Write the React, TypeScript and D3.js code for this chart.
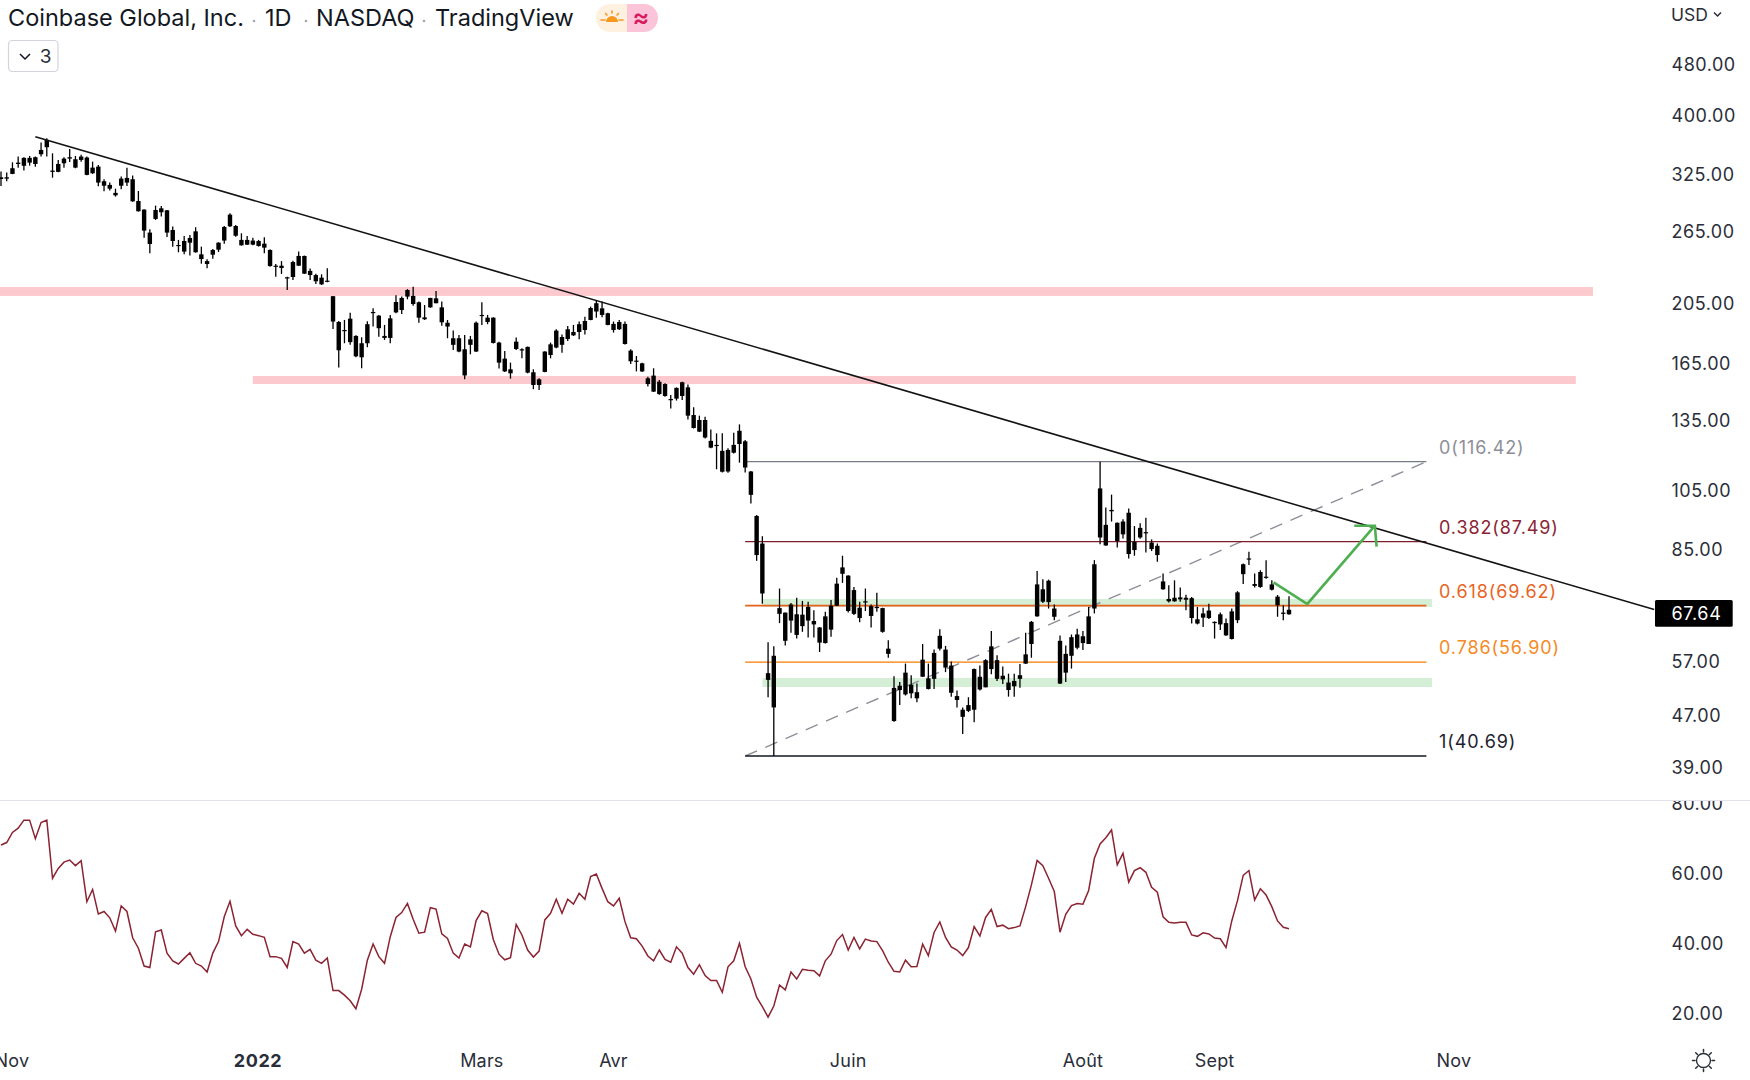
import React from "react";
import * as d3 from "d3";

const candleHigh = [
328,326.9,339.1,346.1,345.3,346.9,346.1,363.9,369.5,350.2,
342,345.3,355.7,346.9,348.5,346.1,339.9,335.9,319.2,315.4,
308.6,322.2,332.7,323.4,306.1,286.7,267,290.5,290.2,286,
269.5,257,260.6,261.6,268.9,250.9,239.8,248.8,254.8,270.1,
282.7,271.1,263.2,260.6,259.1,257,259.4,248.5,235.8,238.3,
225.4,238.6,246.7,243,232,227.8,227.3,232.2,210.4,192.4,
193.1,198.2,182.8,181.5,192.2,201.3,196.6,189.7,196.6,210.9,
209.9,215.6,217.5,206.2,
203.7,209.1,214.1,206.2,193.1,185.9,183,183,182.4,192,
205.7,196.6,194.9,178.7,172.9,165.8,181.3,174.6,175.6,161.9,
156.8,172.7,178.1,186.8,183.4,189,189.7,192,195.4,202.5,
206.9,206.2,198.2,192,193.1,192,173.9,169.8,165.8,157.7,
162.5,155.9,154,147.7,151.8,154.9,153.4,141.4,137.2,136.7,
130.6,128.8,128.8,122.1,129.1,133,125.8,112.6,96.2,89.2,
61.1,60.2,74,67.9,70.3,71.6,70.8,70.6,68.5,64.5,
68.1,71,76.9,83.2,77.6,74.4,70.6,74,69.9,72.9,
69.1,61.5,54.1,53,56.6,54.3,52.7,60.7,56.6,59.5,
64,60.3,57,51.4,48.4,50.2,55.6,56.2,57.5,63.6,
58.3,56,54.6,54.6,56.5,63.2,65.9,78.8,76.5,76.4,
69.9,62.6,60.4,62.8,64.1,63.6,69.3,81.9,116.42,98.8,
103.5,93.7,94.8,98.5,92.5,93.4,95.3,88.2,86.9,78.1,
74.9,76.2,74.3,72.4,71.8,69.3,69.1,70.1,65.8,67.9,
66.5,68.9,73.3,80.9,84.4,78.1,79,81.9,76.2,72.3,69.7,72];

const candleBodyTop = [
321.4,321.4,332,338.7,344.5,344.5,345.3,354.4,367.3,329.2,
337.1,343.6,345.3,342.8,346.1,344.9,332.7,333.9,316.9,312.8,
304,319.9,320.7,319.2,295.3,286.4,263.8,286,287.7,285.7,
266.3,252.4,256,258.8,265,244.1,238.3,247.9,254.5,269.2,
281.3,270.1,257,257,256.4,256,253.6,247.9,234.4,234.4,
224.9,237.5,242.7,242.7,230.1,226.7,224.6,222.2,210.2,191.7,
186.3,194,182.4,177.7,190.2,198.7,196.1,182.4,194.2,205.9,
208.9,214.9,210.4,205.7,
194.9,208.9,208.6,202,191.2,180.9,180.9,173.9,180.2,191.2,
196.6,194.7,194.7,178.1,168.2,161.9,178.7,173.9,175.4,160.2,
156.2,172.5,177,185.9,181.7,186.8,185,190.2,192.4,201.5,
205,201.3,197.8,190.4,191.7,190.4,173.1,167,165.4,156.8,
158.3,154.9,153.6,145.6,151.5,154.6,151.8,137.5,135.1,135.1,
125.4,123.6,121,121.4,123.6,130,125.2,112.4,95.9,86.9,
54.7,58.2,69,67.9,69.9,67.5,67.4,69.3,65.9,64.4,
67,69.6,75.3,79.8,77.5,73.6,69.1,70.7,69.5,69.3,
69,59.7,51.9,52.3,54.8,52.5,51.1,57.4,53.7,58.8,
62.5,59.5,56.2,50.4,48,48.8,55.5,54,57.3,60.2,
57.3,54.2,52.9,53.2,54.3,58.5,65.7,75.1,73.8,76.1,
68.9,61.4,58.6,62.2,62.8,62.4,67,80.7,105.8,92.9,
98,93.6,94,97,87.4,91.9,90.5,87.2,86.2,75.9,
71.3,71.6,71.7,71.6,71.5,66.3,67.7,68.4,65.7,67.5,
65.4,68.2,73,80.7,82.4,75.2,78.5,77.2,75.1,71.9,67.9,68.6];

const candleBodyBottom = [
319.5,319.9,325.3,337.1,334.9,338.7,337.1,349,357.9,327.7,
327.7,337.9,343.6,332.7,342,324.2,326.1,315.4,311.9,308.6,
301.4,311.9,315.4,295,284.7,265.7,253.3,277,283.7,263.8,
256,251.8,246.5,254.5,245.9,240,235.8,243.8,248.2,256.4,
269.8,260.9,252.1,252.7,252.7,251.5,250,234.1,233.6,232.5,
224,225.1,234.4,227.8,226.7,221.7,219.3,221.5,192,173.3,
185.7,178.4,169.6,169,177.7,198,187.5,181.1,181.1,198.4,
200.1,209.9,204.4,194.7,
193.6,202,205,191.5,188.6,176.7,172.5,158.4,176.7,172.5,
196.1,191.7,177.9,165.8,160.7,159.6,174.1,173.5,160,153.1,
153.1,160.4,170.4,175,176.7,180.4,182.8,185,186.3,193.1,
199,196.6,189.7,186.3,186.8,177.2,166.6,166.4,160.7,153.6,
149.5,148.2,147.2,145.3,145.8,147.2,137.2,131.3,129.6,126.9,
122.4,123.1,112.3,112.4,120.2,124,114,103.4,83.4,72.7,
53.4,48.4,67.6,61.4,66,62.7,64.7,66,65.1,61,
60.9,63.9,69.6,78,68.3,67.6,66.6,70.5,67.1,69.1,
63.4,58.6,46.1,51.5,50.7,50.9,50,54,51.7,53.6,
59.7,55.8,51,49.7,46.8,47.8,48,51.6,52,55.5,
53.6,53.5,51.5,52.2,53.6,56.6,60.7,67,70.6,70.5,
66.9,52.7,54.8,58.2,59.9,60.9,60.7,68.9,88.8,86.3,
97.5,87.7,89.8,83.7,84.9,88.8,90.3,85.2,83.4,73.8,
70.7,70.7,71.2,71.1,66.6,65.3,66.7,66.6,65.4,65.1,
62.6,61.8,66.1,77.9,82.1,74.7,74.4,76.9,73.7,69.7,67.6,67.5];

const candleLow = [
311.6,316.9,325,332.7,329.2,335.1,333.9,346.1,346.1,321,
327.3,332.7,339.5,332,339.9,323.8,325.3,311.3,305.8,306.5,
300,307.9,311.6,294.6,284.4,259.1,245,276,279.3,259.7,
250.9,245.9,244.1,243,245.6,236.1,232.2,240.3,246.2,253.6,
269.2,260,251.8,252.4,252.1,250.9,245,233.6,225.4,227.6,
214.9,222.8,234.1,227.6,222.8,219.6,218.8,221,187,163,
177.7,176.7,169,162.5,175.2,188.6,181.9,179.8,177.7,197.8,
197.3,207.9,203.2,191.2,
193.1,201.8,205,189.2,180.9,173.5,172,156.2,170.8,172.2,
189.7,190.2,177.5,162.3,160.4,156.6,173.5,168.4,159.6,150.8,
150.4,160.2,168.4,174.6,171.8,179.2,182.4,180.2,183.4,192.9,
194.7,194.9,189.5,184.6,186.3,176.9,165,160.7,160.4,152.2,
149.3,147.9,146.8,140.7,144.8,145.1,135.3,131.1,129.4,126.5,
122.1,113.3,112,111.9,119.9,116,112,100.3,81.7,70.1,
50.2,40.69,65.4,60.4,63.2,61.9,63.4,62.1,62.1,59,
60.8,62.3,69.5,75.5,67.9,67.3,65.6,68.3,64.4,68.1,
63.2,57.8,46,48.8,50.5,50,49.3,54,51.6,51.7,
59.3,54.9,50.3,48.4,44,47.6,45.9,51.4,52,54.5,
53.2,52.6,50.3,50.3,51.9,56.5,57.8,66.9,70.3,68.9,
66.1,52.6,53,55.6,59.6,59.4,60.7,67.7,86.7,86.2,
94,85.7,88.5,82.4,83.2,88.4,84.2,84.6,81.4,73.7,
70.4,70.6,70.6,68.5,65.3,65.1,64.5,66.4,61.9,63.8,
62.5,61.7,65.4,75.2,80.5,74.3,74.2,76.6,73.5,66.9,66.1,67.4];

const rsiValues = [
68,68.7,71.6,72.8,75.1,75.1,69.8,74.4,75.1,58.5,
61.3,63.1,63.7,62.1,63.5,51.8,55.3,48.3,49,47.2,
43.4,50.6,49,41.5,38.5,33.4,33,43.2,43.7,37.1,
34.9,34,35.6,37.2,34.2,33.4,31.7,37.1,40.4,47.5,
51.9,44.9,42.1,43.9,42.5,42.1,41.6,36.1,36.1,35.6,
33,40.4,39.7,37.1,38.2,35.1,34.2,35.7,26.4,26.4,
25.1,23.5,21.2,26.8,35.1,39.7,36.1,34.2,41.8,47.3,
48.7,51.3,46.8,42.8,43.1,50.1,49.7,42.6,41.3,37.1,
35.7,39.7,38.9,46.4,49.2,48.4,41,36.8,35.2,35.8,
45.3,42.3,38,36,37.7,46.6,48.5,52.5,48.5,52.5,
51.1,54.2,52.5,59,59.7,55.6,51.8,50.6,52.8,46.1,
41.5,41.2,39.1,36.3,34.9,38,35.3,34.5,38.9,37.1,
33,31.1,33.8,30.7,29.3,29.3,25.9,33.2,34.9,39.9,
33.2,29.7,24.5,21.8,18.8,22,28,26.6,31.7,29.7,
32.5,32.2,32.1,30.6,34.9,36.8,40.7,42.4,38,41.6,
38.3,41.1,40.6,40.4,37.8,34.5,31.9,31.7,35.1,33.2,
33.3,39.7,36.4,43,46,41.6,38.9,38,36.4,38.7,
44.7,42,47.3,49.6,44.7,45.1,44.1,44.4,44.9,50.4,
56.6,63.6,62.1,58.5,54.7,43.1,48.2,50.7,51.3,51.1,
55,64.2,68.3,70.1,72.3,62.3,65.6,57.4,60.7,61.5,
60.2,55.9,54.5,47.5,45.9,45.7,45.9,45.9,42.3,41.9,
42.9,42.6,41.4,41.2,38.7,46.3,52.1,59.3,60.7,52.3,
55.5,53.7,50.4,46.3,44.5,44.1];

const priceTicks = [480, 400, 325, 265, 205, 165, 135, 105, 85, 57, 47, 39];
const rsiTicks = [80, 60, 40, 20];
const timeTickLabels = ["Nov", "2022", "Mars", "Avr", "Juin", "Août", "Sept", "Nov"];
const timeTickIndex = [1.9, 44.9, 84, 107, 148, 189, 212, 253.8];
const timeTickBold = [false, true, false, false, false, false, false, false];

const fibRatios = ["0", "0.382", "0.618", "0.786", "1"];
const fibPrices = [116.42, 87.49, 69.62, 56.9, 40.69];
const fibColors = ["#787b86", "#7f1d2d", "#e5611c", "#f57c00", "#131722"];
const fibLabelColors = ["#8d8f98", "#8b2435", "#e8641f", "#f58a25", "#1e222d"];
const fibStartIndex = 130;
const fibEndIndex = 249;

const trendIndex = [6, 288.8];
const trendPrice = [371.6, 68.66];

const pinkBandPrices = [[217.2, 210.4], [158.1, 153.6]];
const pinkBandIndex = [[-2, 278.1], [44, 275.1]];
const greenBandPrices = [[71.3, 69.3], [53.76, 52.06]];
const greenBandIndex = [[133, 250], [133, 250]];

const arrowIndex = [222.3, 228.2, 240];
const arrowPrice = [75.67, 70.03, 92.62];
const arrowHeadIndex = [236.4, 240, 240.3];
const arrowHeadPrice = [92.6, 92.62, 85.93];

const lastPrice = 67.64;

const FONT = "Inter, 'Noto Sans', sans-serif";
const TEXT = "#2a2e39";

const x = d3.scaleLinear().domain([0, 225]).range([1, 1289]);
const y = d3.scaleLog().domain([40.69, 480]).range([756, 65]);
const yRsi = d3.scaleLinear().domain([20, 80]).range([1013, 803]);

const rsiLine = d3.line<number>().x((_, i) => x(i)).y((d) => yRsi(d));

function polyline(ix: number[], pr: number[]) {
  return d3
    .line<number>()
    .x((d) => x(d))
    .y((_, i) => y(pr[i]))(ix) as string;
}

export default function App() {
  const bodyW = 4.4;
  return (
    <svg
      width={1750}
      height={1080}
      viewBox="0 0 1750 1080"
      style={{ position: "fixed", left: 0, top: 0, background: "#fff" }}
      fontFamily={FONT}
    >
      <defs>
        <clipPath id="rsiPane">
          <rect x={0} y={801} width={1750} height={279} />
        </clipPath>
      </defs>
      <rect x={0} y={0} width={1750} height={1080} fill="#fff" />

      {/* bands */}
      {pinkBandPrices.map((b, i) => (
        <rect
          key={"p" + i}
          x={x(pinkBandIndex[i][0])}
          width={x(pinkBandIndex[i][1]) - x(pinkBandIndex[i][0])}
          y={y(b[0])}
          height={y(b[1]) - y(b[0])}
          fill="#fbc9ce"
        />
      ))}
      {greenBandPrices.map((b, i) => (
        <rect
          key={"g" + i}
          x={x(greenBandIndex[i][0])}
          width={x(greenBandIndex[i][1]) - x(greenBandIndex[i][0])}
          y={y(b[0])}
          height={y(b[1]) - y(b[0])}
          fill="#d5eed6"
        />
      ))}

      {/* fibonacci */}
      <line
        x1={x(fibStartIndex)}
        x2={x(fibEndIndex)}
        y1={y(fibPrices[4])}
        y2={y(fibPrices[0])}
        stroke="#8d8f98"
        strokeWidth={1.4}
        strokeDasharray="13 9"
      />
      {fibPrices.map((p, i) => (
        <line
          key={"f" + i}
          x1={x(fibStartIndex)}
          x2={x(fibEndIndex)}
          y1={y(p)}
          y2={y(p)}
          stroke={fibColors[i]}
          strokeWidth={i === 4 ? 1.7 : i === 2 ? 1.9 : 1.4}
        />
      ))}
      {fibPrices.map((p, i) => (
        <text
          key={"fl" + i}
          x={1439}
          y={y(p) - 12.7}
          dominantBaseline="middle"
          fontSize={18}
          letterSpacing={0.9}
          fill={fibLabelColors[i]}
        >
          {`${fibRatios[i]}(${p.toFixed(2)})`}
        </text>
      ))}

      {/* candles */}
      {candleHigh.map((h, i) => {
        const cx = x(i);
        const t = y(candleBodyTop[i]);
        const b = y(candleBodyBottom[i]);
        return (
          <g key={"c" + i}>
            <line x1={cx} x2={cx} y1={y(h)} y2={y(candleLow[i])} stroke="#000" strokeWidth={1.3} />
            <rect x={cx - bodyW / 2} y={t} width={bodyW} height={Math.max(b - t, 1.2)} fill="#000" />
          </g>
        );
      })}

      {/* trend line */}
      <line
        x1={x(trendIndex[0])}
        x2={x(trendIndex[1])}
        y1={y(trendPrice[0])}
        y2={y(trendPrice[1])}
        stroke="#131313"
        strokeWidth={1.6}
      />

      {/* projected arrow */}
      <path d={polyline(arrowIndex, arrowPrice)} fill="none" stroke="#4caf50" strokeWidth={2.6} />
      <path d={polyline(arrowHeadIndex, arrowHeadPrice)} fill="none" stroke="#4caf50" strokeWidth={2.6} />

      {/* header */}
      <g fontSize={23.5} fill="#131722" dominantBaseline="middle">
        <text x={8} y={19.8}>Coinbase Global, Inc.</text>
        <text x={265} y={19.8}>1D</text>
        <text x={316} y={19.8}>NASDAQ</text>
        <text x={435} y={19.8}>TradingView</text>
      </g>
      <g fill="#a3a6af">
        <circle cx={254} cy={21} r={1.3} />
        <circle cx={306} cy={21} r={1.3} />
        <circle cx={424} cy={21} r={1.3} />
      </g>
      <path d="M610 4 H627 V32 H610 A14 14 0 0 1 610 4 Z" fill="#fff1e0" />
      <path d="M627 4 H644 A14 14 0 0 1 644 32 H627 Z" fill="#fcc4d8" />
      <g stroke="#f7971e" strokeWidth={1.6} strokeLinecap="round">
        <line x1={605} y1={20} x2={601} y2={20} />
        <line x1={619} y1={20} x2={623} y2={20} />
        <line x1={612} y1={11} x2={612} y2={13} />
        <line x1={605.5} y1={13.5} x2={607} y2={15} />
        <line x1={618.5} y1={13.5} x2={617} y2={15} />
      </g>
      <path d="M606 22 A6 6 0 0 1 618 22 Z" fill="#f7971e" />
      <text x={641} y={19.5} textAnchor="middle" dominantBaseline="middle" fontSize={25} fill="#d81b60" fontWeight={600}>
        ≈
      </text>

      <rect x={8.5} y={40.5} width={49.5} height={31} rx={4} fill="#fff" stroke="#d1d4dc" strokeWidth={1.2} />
      <path d="M20 54 L25 59 L30 54" fill="none" stroke="#131722" strokeWidth={1.5} />
      <text x={45.5} y={58.2} textAnchor="middle" dominantBaseline="middle" fontSize={19} fill="#2a2e39">3</text>

      {/* price axis */}
      <text x={1671} y={16} dominantBaseline="middle" fontSize={17.5} fill={TEXT}>USD</text>
      <path d="M1714 12.5 L1717.5 16 L1721 12.5" fill="none" stroke={TEXT} strokeWidth={1.5} />
      {priceTicks.map((t) => (
        <text key={"pt" + t} x={1671.5} y={y(t) + 1.5} dominantBaseline="middle" fontSize={18} letterSpacing={0.5} fill={TEXT}>
          {t.toFixed(2)}
        </text>
      ))}
      <rect x={1655} y={600} width={77.7} height={26.7} fill="#000" rx={1.5} />
      <text x={1696.5} y={y(lastPrice) + 1.2} textAnchor="middle" dominantBaseline="middle" fontSize={18} letterSpacing={0.7} fill="#fff">
        {lastPrice.toFixed(2)}
      </text>

      {/* pane divider */}
      <line x1={0} x2={1750} y1={800.5} y2={800.5} stroke="#e0e3eb" strokeWidth={1.2} />

      {/* RSI */}
      <path d={rsiLine(rsiValues) as string} fill="none" stroke="#8b2332" strokeWidth={1.5} />
      <g clipPath="url(#rsiPane)">
        {rsiTicks.map((t) => (
          <text key={"rt" + t} x={1671.5} y={yRsi(t) + 1.7} dominantBaseline="middle" fontSize={18} letterSpacing={0.5} fill={TEXT}>
            {t.toFixed(2)}
          </text>
        ))}
      </g>

      {/* time axis */}
      {timeTickLabels.map((l, i) => (
        <text
          key={"tt" + i}
          x={x(timeTickIndex[i])}
          y={1062}
          textAnchor="middle"
          dominantBaseline="middle"
          fontSize={18}
          fontWeight={timeTickBold[i] ? 700 : 400}
          letterSpacing={timeTickBold[i] ? 0.6 : 0.2}
          fill={TEXT}
        >
          {l}
        </text>
      ))}

      {/* settings icon */}
      <circle cx={1703.5} cy={1060.5} r={7} fill="none" stroke={TEXT} strokeWidth={1.4} />
      <g stroke={TEXT} strokeWidth={1.5} strokeLinecap="round">
        {d3.range(8).map((k) => {
          const a = (k * Math.PI) / 4;
          return (
            <line
              key={"s" + k}
              x1={1703.5 + 8.5 * Math.cos(a)}
              y1={1060.5 + 8.5 * Math.sin(a)}
              x2={1703.5 + 11 * Math.cos(a)}
              y2={1060.5 + 11 * Math.sin(a)}
            />
          );
        })}
      </g>
    </svg>
  );
}
